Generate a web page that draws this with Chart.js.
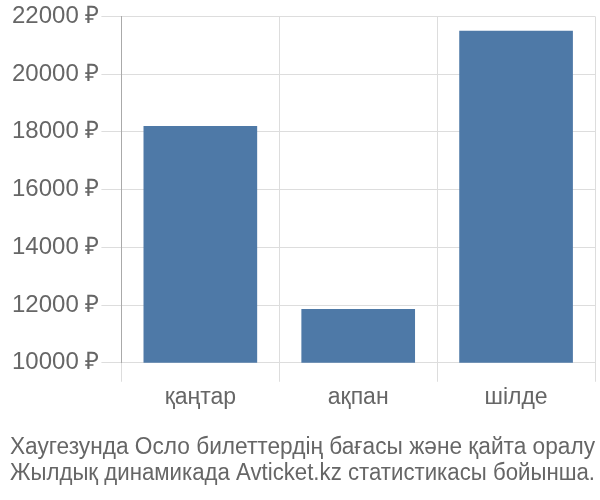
<!DOCTYPE html>
<html>
<head>
<meta charset="utf-8">
<script src="https://cdn.jsdelivr.net/npm/chart.js@4/dist/chart.umd.min.js"></script>
<style>
  html, body { margin: 0; padding: 0; background: #fff; }
  #wrap { width: 600px; height: 500px; }
</style>
</head>
<body>
<div id="wrap"><canvas id="priceChart"></canvas></div>
<script>
// Data
const months = ['қаңтар', 'ақпан', 'шілде'];
const prices = [18200, 11860, 21500];
const yTicks = [10000, 12000, 14000, 16000, 18000, 20000, 22000];
const titleLines = [
    'Хаугезунда Осло билеттердің бағасы және қайта оралу',
    'Жылдық динамикада Avticket.kz статистикасы бойынша.'
];

document.addEventListener("DOMContentLoaded", function () {
    const ctx = document.getElementById('priceChart').getContext('2d');

    new Chart(ctx, {
        type: 'bar',
        data: {
            labels: months,
            datasets: [{
                data: prices,
                backgroundColor: '#4e79a7',
                borderWidth: 0,
                categoryPercentage: 0.9,
                barPercentage: 0.8
            }]
        },
        options: {
            responsive: true,
            maintainAspectRatio: false,
            animation: false,
            layout: {
                padding: { top: -3, right: 5, left: 10, bottom: 0 }
            },
            scales: {
                y: {
                    min: yTicks[0],
                    max: yTicks[yTicks.length - 1],
                    afterBuildTicks: axis => {
                        axis.ticks = yTicks.map(v => ({ value: v }));
                    },
                    ticks: {
                        color: '#666',
                        padding: 2,
                        font: { family: 'Liberation Sans', size: 24 },
                        callback: v => v + ' ₽'
                    },
                    grid: {
                        color: '#dddddd',
                        lineWidth: 1,
                        tickLength: 20
                    },
                    border: { color: '#aaaaaa', width: 1 }
                },
                x: {
                    ticks: {
                        color: '#666',
                        padding: 2,
                        font: { family: 'Liberation Sans', size: 23 }
                    },
                    grid: {
                        color: '#dddddd',
                        lineWidth: 1,
                        tickLength: 19
                    },
                    border: { display: false }
                }
            },
            plugins: {
                legend: { display: false },
                tooltip: { enabled: false },
                title: {
                    display: true,
                    position: 'bottom',
                    text: titleLines,
                    color: '#666',
                    font: { family: 'Liberation Sans', size: 23.5, weight: 'normal', lineHeight: 1.12 },
                    padding: { top: 21, bottom: 13 }
                }
            }
        }
    });
});
</script>
</body>
</html>
